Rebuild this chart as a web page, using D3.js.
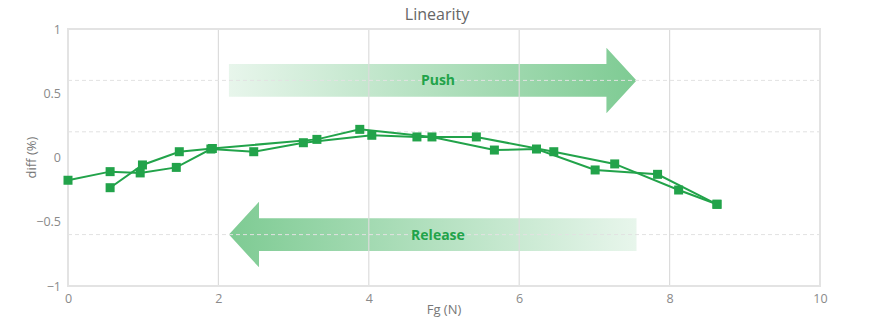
<!DOCTYPE html>
<html>
<head>
<meta charset="utf-8">
<script src="https://cdn.jsdelivr.net/npm/d3@7/dist/d3.min.js"></script>
<style>
  html, body { margin: 0; padding: 0; background: #fff; }
  svg { display: block; font-family: "Open Sans", "Noto Sans", sans-serif; }
</style>
</head>
<body>
<svg id="chart" width="880" height="329"></svg>
<script>
// Push (increasing force) and release (decreasing force) sweeps
const pushForce = [0, 0.56, 0.96, 1.44, 1.90, 2.47, 3.13, 4.04, 4.64, 5.43, 6.46, 7.27, 8.12, 8.63];
const pushDiff  = [-0.177, -0.11, -0.12, -0.077, 0.066, 0.045, 0.115, 0.173, 0.16, 0.16, 0.045, -0.05, -0.253, -0.364];
const releaseForce = [8.63, 7.84, 7.01, 6.23, 5.67, 4.84, 3.88, 3.31, 1.92, 1.48, 0.99, 0.56];
const releaseDiff  = [-0.364, -0.131, -0.097, 0.066, 0.058, 0.16, 0.219, 0.141, 0.07, 0.045, -0.058, -0.235];

const xTicks = [0, 2, 4, 6, 8, 10];
const yTicks = [-1, -0.5, 0, 0.5, 1];
const dashedLevels = [0.6, 0.2, -0.6];

// Direction arrows: tail force, head-base force, tip force, level
const pushArrow = { label: "Push", from: 2.14, headBase: 7.16, to: 7.56, level: 0.6 };
const releaseArrow = { label: "Release", from: 7.56, headBase: 2.54, to: 2.14, level: -0.6 };

const svg = d3.select("#chart");
const margin = { left: 68, right: 60, top: 29, bottom: 43 };
const W = 880, H = 329;

const x = d3.scaleLinear().domain([0, 10]).range([margin.left, W - margin.right]);
const y = d3.scaleLinear().domain([-1, 1]).range([H - margin.bottom, margin.top]);

const green = "#22a34a";

// Gradients for the arrows
const defs = svg.append("defs");
function makeGradient(id, reversed) {
  const g = defs.append("linearGradient").attr("id", id)
    .attr("x1", reversed ? "100%" : "0%").attr("x2", reversed ? "0%" : "100%")
    .attr("y1", "0%").attr("y2", "0%");
  g.append("stop").attr("offset", "0%").attr("stop-color", "#7ecb93").attr("stop-opacity", 0.18);
  g.append("stop").attr("offset", "100%").attr("stop-color", "#7ecb93").attr("stop-opacity", 1);
}
makeGradient("gradPush", false);
makeGradient("gradRelease", true);

// Arrows (drawn beneath the grid)
const bodyHalf = 0.127;   // half body thickness in diff units
const headHalf = 0.255;   // half head height in diff units
function arrowPath(a) {
  const p = d3.path();
  p.moveTo(x(a.from), y(a.level + bodyHalf));
  p.lineTo(x(a.headBase), y(a.level + bodyHalf));
  p.lineTo(x(a.headBase), y(a.level + headHalf));
  p.lineTo(x(a.to), y(a.level));
  p.lineTo(x(a.headBase), y(a.level - headHalf));
  p.lineTo(x(a.headBase), y(a.level - bodyHalf));
  p.lineTo(x(a.from), y(a.level - bodyHalf));
  p.closePath();
  return p.toString();
}
svg.append("path").attr("d", arrowPath(pushArrow)).attr("fill", "url(#gradPush)");
svg.append("path").attr("d", arrowPath(releaseArrow)).attr("fill", "url(#gradRelease)");

// Grid
const grid = svg.append("g");
grid.selectAll("line.v").data(xTicks.filter(d => d > 0 && d < 10)).enter().append("line")
  .attr("x1", d => x(d)).attr("x2", d => x(d))
  .attr("y1", y(1)).attr("y2", y(-1))
  .attr("stroke", "#dcdcdc").attr("stroke-width", 1.2);
grid.selectAll("line.h").data(dashedLevels).enter().append("line")
  .attr("x1", x(0)).attr("x2", x(10))
  .attr("y1", d => y(d)).attr("y2", d => y(d))
  .attr("stroke", "#e2e2e2").attr("stroke-width", 1).attr("stroke-dasharray", "4,3");

// Frame
svg.append("rect")
  .attr("x", x(0)).attr("y", y(1))
  .attr("width", x(10) - x(0)).attr("height", y(-1) - y(1))
  .attr("fill", "none").attr("stroke", "#e3e3e3").attr("stroke-width", 2);

// Axes
const xAxis = d3.axisBottom(x).tickValues(xTicks).tickSize(0).tickPadding(8).tickFormat(d3.format("d"));
const yAxis = d3.axisLeft(y).tickValues(yTicks).tickSize(0).tickPadding(7).tickFormat(d => d3.format("")(d));
const gx = svg.append("g").attr("transform", `translate(0,${y(-1)})`).call(xAxis);
const gy = svg.append("g").attr("transform", `translate(${x(0)},0)`).call(yAxis);
[gx, gy].forEach(g => {
  g.select(".domain").remove();
  g.selectAll("text").attr("fill", "#8a8a8a").attr("font-size", 12.5)
    .attr("font-family", "'Open Sans', 'Noto Sans', sans-serif");
});

// Arrow labels
[pushArrow, releaseArrow].forEach(a => {
  svg.append("text")
    .attr("x", x(4.92)).attr("y", y(a.level))
    .attr("dy", "0.35em")
    .attr("text-anchor", "middle")
    .attr("font-size", 14).attr("font-weight", "bold")
    .attr("fill", green)
    .text(a.label);
});

// Series lines and markers
const line = d3.line().x(d => x(d[0])).y(d => y(d[1]));
const pushPts = pushForce.map((f, i) => [f, pushDiff[i]]);
const releasePts = releaseForce.map((f, i) => [f, releaseDiff[i]]);
[pushPts, releasePts].forEach(pts => {
  svg.append("path").datum(pts).attr("d", line)
    .attr("fill", "none").attr("stroke", green).attr("stroke-width", 2);
});
const sq = 9;
[pushPts, releasePts].forEach(pts => {
  svg.append("g").selectAll("rect").data(pts).enter().append("rect")
    .attr("x", d => x(d[0]) - sq / 2).attr("y", d => y(d[1]) - sq / 2)
    .attr("width", sq).attr("height", sq)
    .attr("fill", green);
});

// Titles
svg.append("text").attr("x", 437).attr("y", 20)
  .attr("text-anchor", "middle").attr("font-size", 16).attr("fill", "#666")
  .text("Linearity");
svg.append("text").attr("x", x(5)).attr("y", 314)
  .attr("text-anchor", "middle").attr("font-size", 13).attr("fill", "#777")
  .text("Fg (N)");
svg.append("text")
  .attr("transform", `translate(36,${y(0)}) rotate(-90)`)
  .attr("text-anchor", "middle").attr("font-size", 13).attr("fill", "#777")
  .text("diff (%)");
</script>
</body>
</html>
